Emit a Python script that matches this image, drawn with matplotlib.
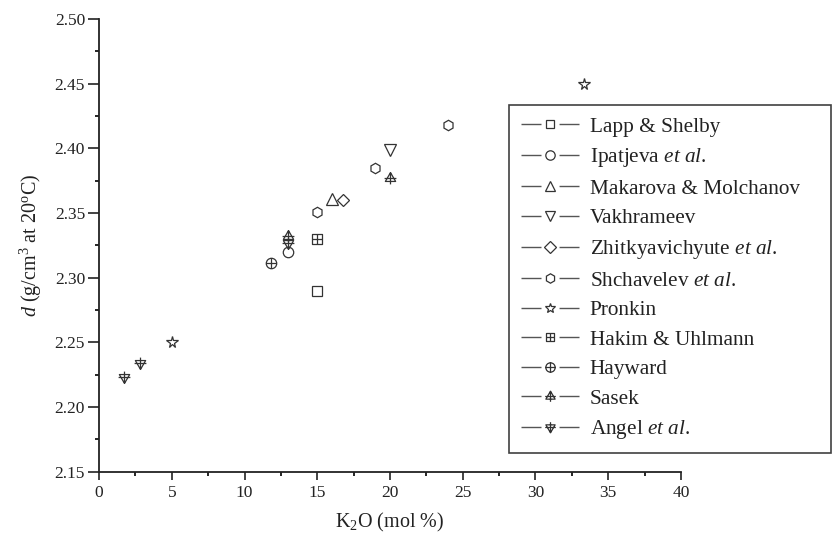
import numpy as np
import matplotlib
matplotlib.use("Agg")
import matplotlib.pyplot as plt
from matplotlib.path import Path

plt.rcParams['font.family'] = ['Liberation Serif', 'DejaVu Serif']
plt.rcParams['mathtext.fontset'] = 'custom'
plt.rcParams['mathtext.rm'] = 'Liberation Serif'
plt.rcParams['mathtext.it'] = 'Liberation Serif:italic'

# data (K2O mol %, density g/cm3)
lapp_x, lapp_y = [15.0], [2.290]
ipat_x, ipat_y = [13.0], [2.320]
maka_x, maka_y = [16.0], [2.361]
vakh_x, vakh_y = [20.0], [2.399]
zhit_x, zhit_y = [16.8], [2.360]
shch_x, shch_y = [15.0, 19.0, 24.0], [2.351, 2.385, 2.418]
pron_x, pron_y = [5.0, 33.3], [2.250, 2.450]
haki_x, haki_y = [15.0], [2.330]
hayw_x, hayw_y = [11.8], [2.311]
sase_x, sase_y = [13.0, 20.0], [2.332, 2.377]
ange_x, ange_y = [1.7, 2.8, 13.0], [2.223, 2.234, 2.327]

x_ticks = np.arange(0, 41, 5)
y_ticks = [2.15, 2.20, 2.25, 2.30, 2.35, 2.40, 2.45, 2.50]


def make_marker(outline, with_cross=True):
    """Outline shape with an optional plus sign through it."""
    parts = [outline]
    if with_cross:
        parts.append(Path([(-1, 0), (1, 0), (0, -1), (0, 1)],
                          [Path.MOVETO, Path.LINETO, Path.MOVETO, Path.LINETO]))
    return Path.make_compound_path(*parts)


sq = Path([(-1, -1), (1, -1), (1, 1), (-1, 1), (-1, -1)], closed=True)
circ = Path.unit_circle()
tri_up = Path([(0, 1), (-0.87, -0.5), (0.87, -0.5), (0, 1)], closed=True)
tri_dn = Path([(0, -1), (-0.87, 0.5), (0.87, 0.5), (0, -1)], closed=True)

hakim_marker = make_marker(sq)
hayward_marker = make_marker(circ)
sasek_marker = make_marker(tri_up)
angel_marker = make_marker(tri_dn)

series = [
    (lapp_x, lapp_y, 's', 6.5, 'Lapp & Shelby'),
    (ipat_x, ipat_y, 'o', 7.5, r'Ipatjeva $\mathit{et\ al}$.'),
    (maka_x, maka_y, '^', 8, 'Makarova & Molchanov'),
    (vakh_x, vakh_y, 'v', 8, 'Vakhrameev'),
    (zhit_x, zhit_y, 'D', 6.5, r'Zhitkyavichyute $\mathit{et\ al}$.'),
    (shch_x, shch_y, 'h', 7.5, r'Shchavelev $\mathit{et\ al}$.'),
    (pron_x, pron_y, '*', 8.5, 'Pronkin'),
    (haki_x, haki_y, hakim_marker, 7, 'Hakim & Uhlmann'),
    (hayw_x, hayw_y, hayward_marker, 7.5, 'Hayward'),
    (sase_x, sase_y, sasek_marker, 8.5, 'Sasek'),
    (ange_x, ange_y, angel_marker, 8.5, r'Angel $\mathit{et\ al}$.'),
]

fig = plt.figure(figsize=(8.32, 5.36), dpi=100)
ax = fig.add_axes([0.119, 0.12, 0.6995, 0.8444])

for xs, ys, mk, ms, lab in series:
    ax.plot(xs, ys, linestyle='-', color='#555555', linewidth=0,
            marker=mk, markersize=ms, markerfacecolor='none',
            markeredgecolor='#333333', markeredgewidth=0.9, label=lab)

ax.set_xlim(0, 40)
ax.set_ylim(2.15, 2.50)
ax.set_xticks(x_ticks)
ax.set_yticks(y_ticks)
ax.set_yticklabels([f"{v:.2f}" for v in y_ticks])
ax.set_xticks(np.arange(2.5, 40, 5), minor=True)
ax.set_yticks(np.arange(2.175, 2.5, 0.05), minor=True)
ax.tick_params(which='major', direction='out', width=1.2,
               labelsize=12.5, colors='#222222')
ax.tick_params(axis='x', which='major', length=5.5, pad=4)
ax.tick_params(axis='y', which='major', length=8, pad=2)
ax.tick_params(which='minor', direction='out', length=3, width=1.2)
for side in ['top', 'right']:
    ax.spines[side].set_visible(False)
for side in ['left', 'bottom']:
    ax.spines[side].set_linewidth(1.3)
    ax.spines[side].set_color('#222222')

ax.set_xlabel(r'K$_2$O (mol %)', fontsize=14.5, color='#222222', labelpad=7)
ax.set_ylabel(r'$d$ (g/cm$^3$ at 20$^{\rm o}$C)', fontsize=14.5,
              color='#222222', labelpad=8)

leg = fig.legend(loc='upper left', bbox_to_anchor=(0.6118, 0.164, 0.387, 0.64),
                 mode='expand', borderaxespad=0, fontsize=15.3, numpoints=1,
                 handlelength=2.73, handletextpad=0.52, labelspacing=0.455,
                 borderpad=0.55, fancybox=False, frameon=True, markerscale=0.9)
leg.get_frame().set_edgecolor('#111111')
leg.get_frame().set_linewidth(1.2)
for h in leg.legend_handles:
    h.set_linewidth(1.0)
    h.set_color('#555555')
    h.set_linestyle((0, (14.4, 13, 14.4, 60)))
    h.set_markeredgecolor('#333333')
for t in leg.get_texts():
    t.set_color('#222222')

fig.savefig('out.png', dpi=100)
